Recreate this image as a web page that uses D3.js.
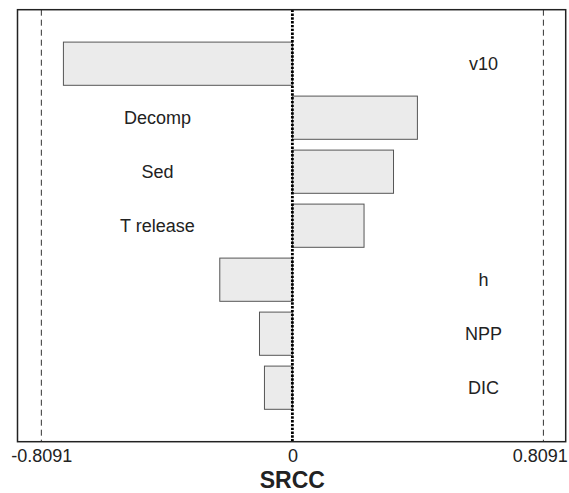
<!DOCTYPE html>
<html lang="en">
<head>
    <meta charset="UTF-8">
    <title>SRCC tornado chart</title>
    <script src="https://d3js.org/d3.v7.min.js"></script>
    <style>
        body {
            margin: 0;
            background-color: #ffffff;
        }
        text {
            font-family: 'Liberation Sans', Arial, sans-serif;
            fill: #222;
        }
    </style>
</head>
<body>
    <script>
        // Data
        const params = ["v10", "Decomp", "Sed", "T release", "h", "NPP", "DIC"];
        const srcc = [-0.738, 0.403, 0.326, 0.231, -0.234, -0.106, -0.090];
        const critical = 0.8091;
        const tickValues = [-0.8091, 0, 0.8091];
        const tickLabels = ["-0.8091", "0", "0.8091"];

        const W = 569, H = 493;
        const margin = {top: 9.7, right: 3.3, bottom: 51.3, left: 17.5},
              width = W - margin.left - margin.right,
              height = H - margin.top - margin.bottom;

        const x = d3.scaleLinear().domain([-0.886, 0.881]).range([0, width]);
        const y = d3.scaleBand().domain(params).range([0, height])
            .paddingInner(0.2).paddingOuter(0.6);

        const svg = d3.select("body").append("svg")
            .attr("width", W)
            .attr("height", H)
            .append("g")
            .attr("transform", "translate(" + margin.left + "," + margin.top + ")");

        // critical value lines
        svg.selectAll(".crit")
            .data([-critical, critical])
            .enter().append("line")
            .attr("x1", d => x(d)).attr("x2", d => x(d))
            .attr("y1", 0).attr("y2", height)
            .attr("stroke", "#333")
            .attr("stroke-width", 1)
            .attr("stroke-dasharray", "6,4");

        // bars
        svg.selectAll(".bar")
            .data(params)
            .enter().append("rect")
            .attr("x", (d, i) => x(Math.min(0, srcc[i])))
            .attr("y", d => y(d))
            .attr("width", (d, i) => Math.abs(x(srcc[i]) - x(0)))
            .attr("height", y.bandwidth())
            .attr("fill", "#ebebeb")
            .attr("stroke", "#555")
            .attr("stroke-width", 1);

        // labels on the opposite side of each bar
        svg.selectAll(".lbl")
            .data(params)
            .enter().append("text")
            .attr("x", (d, i) => srcc[i] < 0 ? x(0.616) : x(-0.435))
            .attr("y", d => y(d) + y.bandwidth() / 2)
            .attr("dy", "0.35em")
            .attr("text-anchor", "middle")
            .style("font-size", "18px")
            .text(d => d);

        // zero line
        svg.append("line")
            .attr("x1", x(0)).attr("x2", x(0))
            .attr("y1", 0).attr("y2", height)
            .attr("stroke", "#000")
            .attr("stroke-width", 2.8)
            .attr("stroke-dasharray", "2.4,1.4");

        // frame
        svg.append("rect")
            .attr("width", width)
            .attr("height", height)
            .attr("fill", "none")
            .attr("stroke", "#222")
            .attr("stroke-width", 1.5);

        // x axis
        const xAxis = svg.append("g")
            .attr("transform", "translate(0," + height + ")")
            .call(d3.axisBottom(x).tickValues(tickValues)
                .tickFormat((d, i) => tickLabels[i])
                .tickSize(0).tickPadding(8));
        xAxis.select(".domain").remove();
        xAxis.selectAll("text")
            .style("font-size", "18px")
            .style("font-family", "'Liberation Sans', Arial, sans-serif")
            .attr("fill", "#222");
        // keep the right label inside the page
        xAxis.selectAll(".tick").filter(d => d === critical).select("text")
            .attr("text-anchor", "end")
            .attr("x", 24);

        svg.append("text")
            .attr("x", x(0))
            .attr("y", height + 46)
            .attr("text-anchor", "middle")
            .style("font-size", "23px")
            .style("font-weight", "bold")
            .text("SRCC");
    </script>
</body>
</html>
